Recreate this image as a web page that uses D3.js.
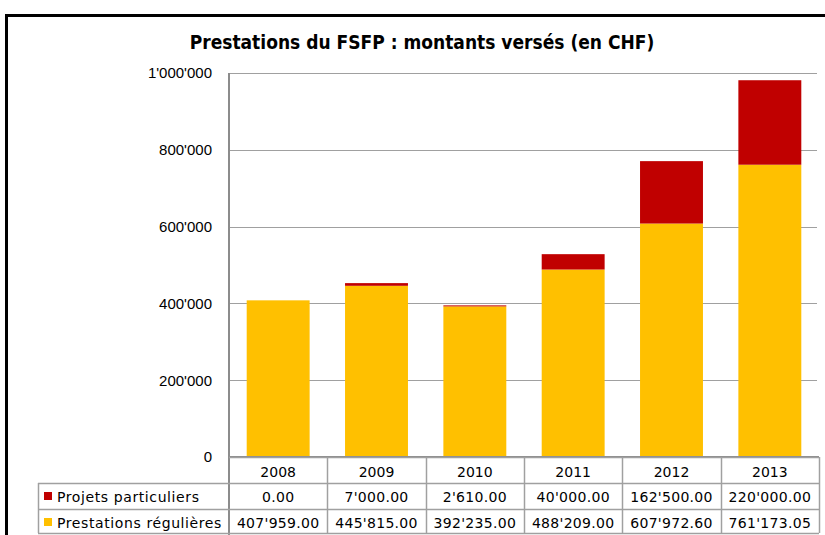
<!DOCTYPE html>
<html>
<head>
<meta charset="utf-8">
<script src="https://cdn.jsdelivr.net/npm/d3@7"></script>
<style>
  body { margin: 0; background: #fff; }
  svg { display: block; }
</style>
</head>
<body>
<svg id="chart" width="825" height="535"></svg>
<script>
const years = ["2008", "2009", "2010", "2011", "2012", "2013"];
const regulieres = [407959.00, 445815.00, 392235.00, 488209.00, 607972.60, 761173.05];
const particuliers = [0.00, 7000.00, 2610.00, 40000.00, 162500.00, 220000.00];
const yTicks = [0, 200000, 400000, 600000, 800000, 1000000];
const seriesNames = ["Projets particuliers", "Prestations régulières"];
const colors = { part: "#C00000", reg: "#FFC000" };

const svg = d3.select("#chart");
const W = 825, H = 535;

const plot = { left: 229, right: 819, top: 73, bottom: 457 };
const rowH = [26, 26, 24];
const tableLeft = 38;

const loc = d3.formatLocale({ decimal: ".", thousands: "'", grouping: [3], currency: ["", ""] });
const fmtAxis = loc.format(",");
const fmtVal = loc.format(",.2f");

// outer frame
svg.append("path")
  .attr("d", `M6.5,${H + 5} V15.5 H${W + 5}`)
  .attr("fill", "none").attr("stroke", "#000").attr("stroke-width", 3);

svg.append("text")
  .attr("x", 422).attr("y", 49)
  .attr("text-anchor", "middle")
  .attr("font-family", "DejaVu Sans Condensed, DejaVu Sans")
  .attr("font-weight", "bold")
  .attr("font-size", 19)
  .attr("fill", "#000")
  .text("Prestations du FSFP : montants versés (en CHF)");

const x = d3.scaleBand().domain(years).range([plot.left, plot.right]).padding(0);
const xBar = d3.scaleBand().domain(years).range([plot.left, plot.right]).paddingInner(0.36).paddingOuter(0.18);
const y = d3.scaleLinear().domain([0, 1000000]).range([plot.bottom, plot.top]);

// gridlines
svg.append("g")
  .selectAll("line")
  .data(yTicks.filter(d => d > 0))
  .join("line")
  .attr("x1", plot.left).attr("x2", plot.right - 2)
  .attr("y1", d => Math.round(y(d)) + 0.5).attr("y2", d => Math.round(y(d)) + 0.5)
  .attr("stroke", "#a0a0a0").attr("stroke-width", 1.2);

// y axis labels
const yAxis = d3.axisLeft(y).tickValues(yTicks).tickFormat(fmtAxis).tickSize(0).tickPadding(17);
svg.append("g")
  .attr("transform", `translate(${plot.left},0)`)
  .call(yAxis)
  .call(g => g.select(".domain").remove())
  .call(g => g.selectAll("text")
    .attr("font-family", "Liberation Sans, Arial, sans-serif")
    .attr("font-size", 15)
    .attr("fill", "#000"));

// stacked bars
const rows = years.map((yr, i) => ({ year: yr, reg: regulieres[i], part: particuliers[i] }));
const stack = d3.stack().keys(["reg", "part"]);
const stacked = stack(rows);

svg.append("g")
  .selectAll("g")
  .data(stacked)
  .join("g")
  .attr("fill", d => colors[d.key])
  .selectAll("rect")
  .data(d => d)
  .join("rect")
  .attr("x", d => xBar(d.data.year))
  .attr("width", xBar.bandwidth())
  .attr("y", d => y(d[1]))
  .attr("height", d => y(d[0]) - y(d[1]));

// axes lines
svg.append("line")
  .attr("x1", plot.left).attr("x2", plot.left)
  .attr("y1", plot.top).attr("y2", H)
  .attr("stroke", "#8c8c8c").attr("stroke-width", 2);
svg.append("line")
  .attr("x1", plot.left).attr("x2", plot.right)
  .attr("y1", plot.bottom).attr("y2", plot.bottom)
  .attr("stroke", "#8c8c8c").attr("stroke-width", 2);

// data table
const tbl = svg.append("g");
const r0 = plot.bottom, r1 = r0 + rowH[0], r2 = r1 + rowH[1], r3 = r2 + rowH[2];
const gridStroke = "#a0a0a0";

// horizontal lines
[[plot.left, r0], [tableLeft, r1], [tableLeft, r2], [tableLeft, r3]].forEach(([x0, yy]) => {
  tbl.append("line")
    .attr("x1", x0).attr("x2", plot.right)
    .attr("y1", yy + 0.5).attr("y2", yy + 0.5)
    .attr("stroke", gridStroke).attr("stroke-width", 1.5);
});
// vertical lines
tbl.append("line")
  .attr("x1", tableLeft + 0.5).attr("x2", tableLeft + 0.5)
  .attr("y1", r1).attr("y2", r3)
  .attr("stroke", gridStroke).attr("stroke-width", 1.5);
tbl.selectAll(".vl")
  .data(years)
  .join("line")
  .attr("x1", d => Math.round(x(d) + x.bandwidth()) + 0.5)
  .attr("x2", d => Math.round(x(d) + x.bandwidth()) + 0.5)
  .attr("y1", r0).attr("y2", r3)
  .attr("stroke", gridStroke).attr("stroke-width", 1.5);

const tfont = "DejaVu Sans, Verdana, sans-serif";
tbl.selectAll(".yr")
  .data(years)
  .join("text")
  .attr("x", d => x(d) + x.bandwidth() / 2)
  .attr("y", r0 + 20)
  .attr("text-anchor", "middle")
  .attr("font-family", tfont).attr("font-size", 14)
  .text(d => d);

const tableRows = [
  { name: seriesNames[0], color: colors.part, values: particuliers, top: r1 },
  { name: seriesNames[1], color: colors.reg, values: regulieres, top: r2 }
];
tableRows.forEach(row => {
  tbl.append("rect")
    .attr("x", 44).attr("y", row.top + 9)
    .attr("width", 8).attr("height", 8)
    .attr("fill", row.color);
  tbl.append("text")
    .attr("x", 57).attr("y", row.top + 19)
    .attr("font-family", tfont).attr("font-size", 14)
    .attr("letter-spacing", 0.6)
    .text(row.name);
  tbl.selectAll(null)
    .data(row.values)
    .join("text")
    .attr("x", (d, i) => x(years[i]) + x.bandwidth() / 2)
    .attr("y", row.top + 19)
    .attr("text-anchor", "middle")
    .attr("font-family", tfont).attr("font-size", 14)
    .attr("letter-spacing", 0.3)
    .text(d => fmtVal(d));
});
</script>
</body>
</html>
